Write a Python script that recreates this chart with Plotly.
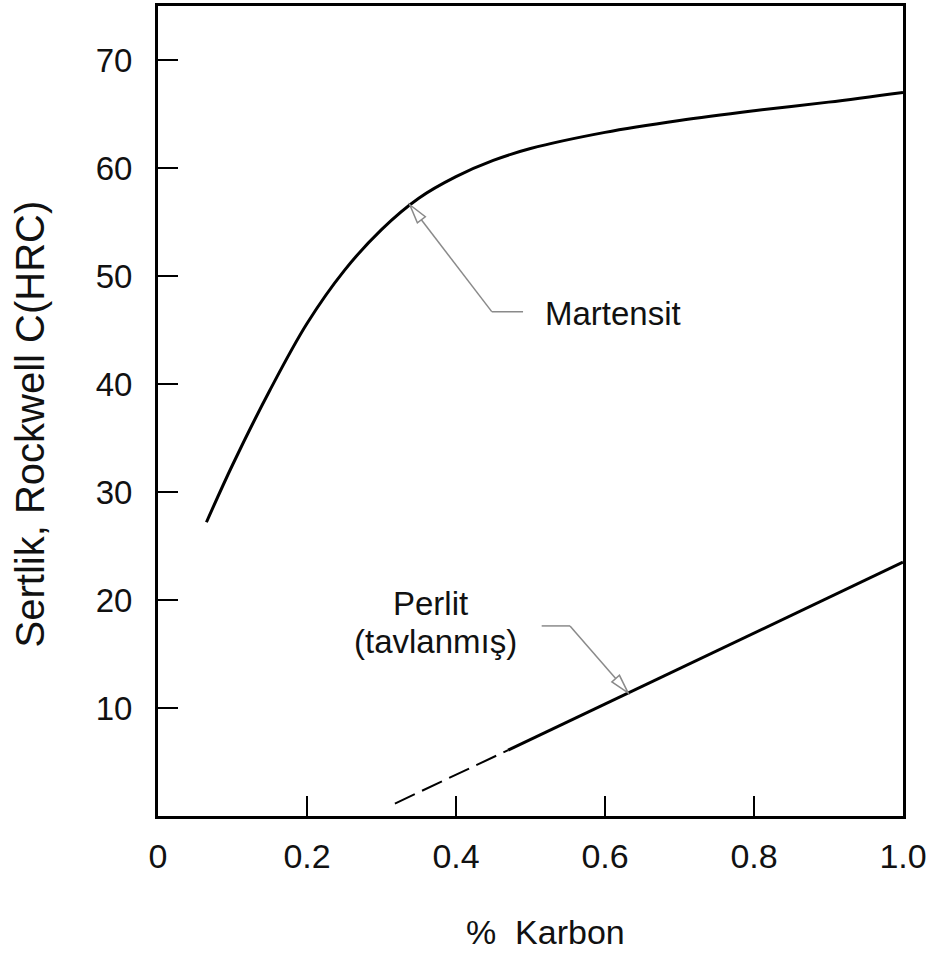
import math
import plotly.graph_objects as go

# ---------------- data ----------------
martensite_c = [0.065, 0.10, 0.15, 0.20, 0.25, 0.30, 0.35, 0.40, 0.45, 0.50,
                0.60, 0.70, 0.80, 0.90, 1.00]
martensite_hrc = [27.2, 32.5, 39.4, 45.6, 50.5, 54.3, 57.2, 59.2, 60.7, 61.8,
                  63.3, 64.4, 65.3, 66.1, 67.0]

pearlite_dashed_c = [0.318, 0.47]
pearlite_dashed_hrc = [1.15, 6.1]
pearlite_solid_c = [0.47, 1.0]
pearlite_solid_hrc = [6.1, 23.5]

x_tickvals = [0, 0.2, 0.4, 0.6, 0.8, 1.0]
x_ticktext = ["0", "0.2", "0.4", "0.6", "0.8", "1.0"]
y_tickvals = [10, 20, 30, 40, 50, 60, 70]
y_ticktext = ["10", "20", "30", "40", "50", "60", "70"]

x_title = "%\u00a0\u00a0Karbon"
y_title = "Sertlik, Rockwell C(HRC)"

# label anchors (data coords): tip on curve, bend of leader, end of horizontal leader
mart_tip = (0.338, 56.6)
mart_bend = (0.448, 46.7)
mart_hend = (0.490, 46.7)
mart_text = (0.517, 46.5)

perl_tip = (0.631, 11.4)
perl_bend = (0.553, 17.6)
perl_hend = (0.515, 17.6)
perl_text1 = (0.366, 19.7)
perl_text2 = (0.373, 16.2)

# ---------------- layout constants ----------------
W, H = 931, 953
ML, MR, MT, MB = 158, 28, 3, 137
XR = [0, 1.0]
YR = [0, 75]
PW = W - ML - MR
PH = H - MT - MB
FONT = "Arial, 'Liberation Sans', sans-serif"
TXT = "#111"


def to_px(p):
    return ((p[0] - XR[0]) / (XR[1] - XR[0]) * PW, -(p[1] - YR[0]) / (YR[1] - YR[0]) * PH)


def to_data(px):
    return (px[0] / PW * (XR[1] - XR[0]) + XR[0], -px[1] / PH * (YR[1] - YR[0]) + YR[0])


def open_arrow(tip, tail, length=19, width=10):
    tx, ty = to_px(tip)
    bx, by = to_px(tail)
    dx, dy = tx - bx, ty - by
    n = math.hypot(dx, dy)
    ux, uy = dx / n, dy / n
    nx, ny = -uy, ux
    cx, cy = tx - ux * length, ty - uy * length
    p1 = to_data((cx + nx * width / 2, cy + ny * width / 2))
    p2 = to_data((cx - nx * width / 2, cy - ny * width / 2))
    base = to_data((cx, cy))
    path = f"M {tip[0]},{tip[1]} L {p1[0]},{p1[1]} L {p2[0]},{p2[1]} Z"
    return path, base


fig = go.Figure()

fig.add_trace(go.Scatter(x=martensite_c, y=martensite_hrc, mode="lines",
                         line=dict(color="black", width=3, shape="spline", smoothing=1.0),
                         showlegend=False, hoverinfo="skip"))
fig.add_trace(go.Scatter(x=pearlite_dashed_c, y=pearlite_dashed_hrc, mode="lines",
                         line=dict(color="black", width=2, dash="22px,8px"),
                         showlegend=False, hoverinfo="skip"))
fig.add_trace(go.Scatter(x=pearlite_solid_c, y=pearlite_solid_hrc, mode="lines",
                         line=dict(color="black", width=3),
                         showlegend=False, hoverinfo="skip"))

LEADER = dict(color="#8a8a8a", width=1.5)
shapes = []
for tip, bend, hend in [(mart_tip, mart_bend, mart_hend), (perl_tip, perl_bend, perl_hend)]:
    path, base = open_arrow(tip, bend)
    shapes.append(dict(type="line", xref="x", yref="y", x0=hend[0], y0=hend[1],
                       x1=bend[0], y1=bend[1], line=LEADER))
    shapes.append(dict(type="line", xref="x", yref="y", x0=bend[0], y0=bend[1],
                       x1=base[0], y1=base[1], line=LEADER))
    shapes.append(dict(type="path", xref="x", yref="y", path=path,
                       fillcolor="white", line=LEADER))

annotations = [
    dict(x=mart_text[0], y=mart_text[1], xref="x", yref="y", text="Martensit",
         showarrow=False, xanchor="left", yanchor="middle",
         font=dict(family=FONT, size=33, color=TXT)),
    dict(x=perl_text1[0], y=perl_text1[1], xref="x", yref="y", text="Perlit",
         showarrow=False, xanchor="center", yanchor="middle",
         font=dict(family=FONT, size=33, color=TXT)),
    dict(x=perl_text2[0], y=perl_text2[1], xref="x", yref="y", text="(tavlanmış)",
         showarrow=False, xanchor="center", yanchor="middle",
         font=dict(family=FONT, size=33, color=TXT)),
    # axis titles
    dict(x=(545 - ML) / PW, y=-(932 - (MT + PH)) / PH, xref="paper", yref="paper",
         text=x_title, showarrow=False, xanchor="center", yanchor="middle",
         font=dict(family=FONT, size=34, color=TXT)),
    dict(x=(30 - ML) / PW, y=((MT + PH) - 423) / PH, xref="paper", yref="paper",
         text=y_title, showarrow=False, xanchor="center", yanchor="middle", textangle=-90,
         font=dict(family=FONT, size=40, color=TXT)),
]

fig.update_layout(
    width=W, height=H,
    margin=dict(l=ML, r=MR, t=MT, b=MB),
    paper_bgcolor="white", plot_bgcolor="white",
    shapes=shapes, annotations=annotations,
    font=dict(family=FONT, color=TXT),
)

fig.update_xaxes(
    range=XR, tickvals=x_tickvals, ticktext=x_ticktext,
    ticks="inside", ticklen=20, tickwidth=1.5, tickcolor="black",
    showline=True, linewidth=3, linecolor="black", mirror=True,
    showgrid=False, zeroline=False,
    tickfont=dict(family=FONT, size=34, color=TXT),
    ticklabelstandoff=8,
)
fig.update_yaxes(
    range=YR, tickvals=y_tickvals, ticktext=y_ticktext,
    ticks="inside", ticklen=20, tickwidth=1.5, tickcolor="black",
    showline=True, linewidth=3, linecolor="black", mirror=True,
    showgrid=False, zeroline=False,
    tickfont=dict(family=FONT, size=33, color=TXT),
    ticklabelstandoff=16,
)

fig.write_html("out.html")
